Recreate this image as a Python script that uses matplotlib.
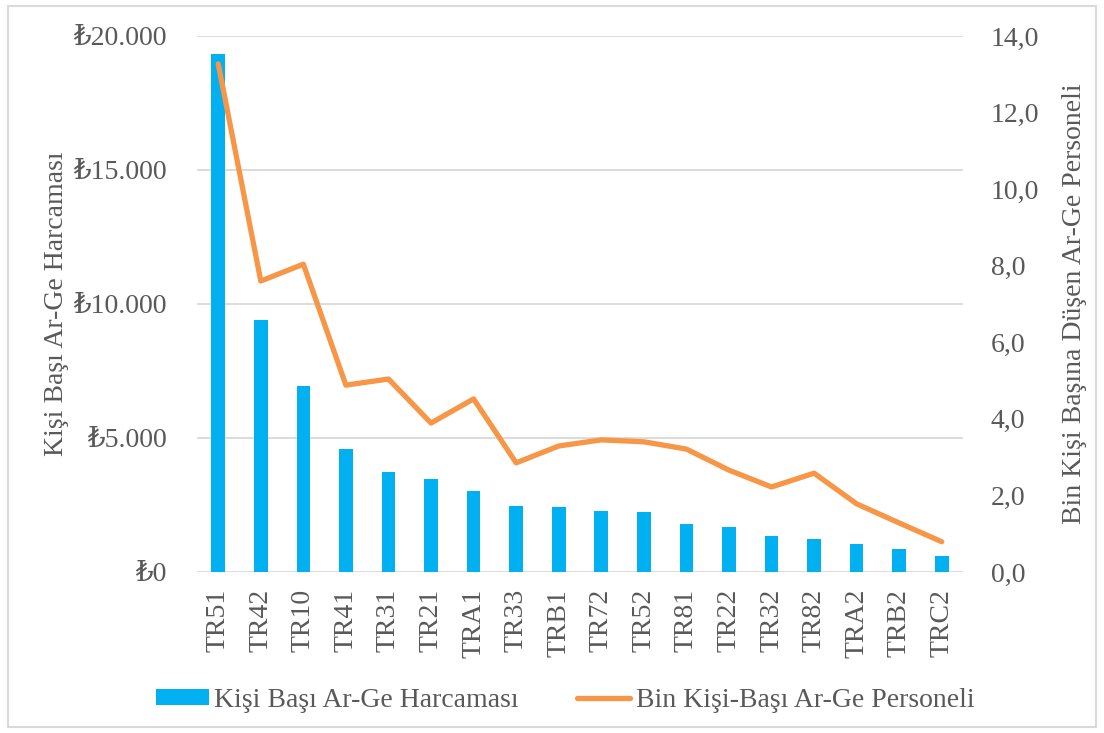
import matplotlib.pyplot as plt
from matplotlib.patches import Rectangle
from matplotlib.ticker import FuncFormatter

# Data
regions = ["TR51", "TR42", "TR10", "TR41", "TR31", "TR21", "TRA1", "TR33", "TRB1",
           "TR72", "TR52", "TR81", "TR22", "TR32", "TR82", "TRA2", "TRB2", "TRC2"]
spending = [19330, 9400, 6940, 4590, 3730, 3470, 3020, 2460, 2425,
            2275, 2240, 1790, 1680, 1345, 1230, 1045, 860, 600]
personnel = [13.27, 7.60, 8.04, 4.88, 5.04, 3.89, 4.52, 2.85, 3.29,
             3.45, 3.40, 3.21, 2.66, 2.22, 2.58, 1.78, 1.28, 0.79]

bar_label = "Kişi Başı Ar-Ge Harcaması"
line_label = "Bin Kişi-Başı Ar-Ge Personeli"
left_ylabel = "Kişi Başı Ar-Ge Harcaması"
right_ylabel = "Bin Kişi Başına Düşen Ar-Ge Personeli"

text_color = "#595959"
grid_color = "#d9d9d9"
bar_color = "#00b0f0"
line_color = "#f79646"

plt.rcParams['font.family'] = ['Liberation Serif', 'DejaVu Serif']
plt.rcParams['font.size'] = 20

fig = plt.figure(figsize=(11.04, 7.33), dpi=100)
ax = fig.add_axes([0.1784, 0.2197, 0.6939, 0.7312])
ax2 = ax.twinx()

x = range(len(regions))
bars = ax.bar(x, spending, width=0.32, color=bar_color, zorder=2, label=bar_label)
line, = ax2.plot(x, personnel, color=line_color, lw=3.8, solid_capstyle='round',
                 solid_joinstyle='round', label=line_label)

ax.set_xlim(-0.5, len(regions) - 0.5)
ax.set_ylim(0, 20000)
ax.set_yticks(range(0, 20001, 5000))
ax2.set_ylim(0, 14)
ax2.set_yticks(range(0, 15, 2))

ax.yaxis.set_major_formatter(FuncFormatter(lambda v, p: "₺" + f"{int(v):,}".replace(",", ".")))
ax2.yaxis.set_major_formatter(FuncFormatter(lambda v, p: f"{v:.1f}".replace(".", ",")))

ax.grid(axis='y', color=grid_color, lw=1.3, zorder=0)
ax.set_axisbelow(True)
ax.set_xticks(list(x))
ax.set_xticklabels(regions, rotation=90)

for a in (ax, ax2):
    for s in a.spines.values():
        s.set_visible(False)
    a.tick_params(length=0, colors=text_color, labelsize=20)
ax.tick_params(axis='y', pad=22)
ax2.tick_params(axis='y', pad=20)
ax.tick_params(axis='x', pad=12)

ax.set_ylabel(left_ylabel, color=text_color, fontsize=20, labelpad=3)
ax2.set_ylabel(right_ylabel, color=text_color, fontsize=20, labelpad=16)

fig.legend([bars, line], [bar_label, line_label], loc='center', ncol=2,
           bbox_to_anchor=(0.512, 0.044), frameon=False, fontsize=20,
           labelcolor=text_color, handlelength=1.9, handleheight=0.5,
           handletextpad=0.2, columnspacing=2.1)

fig.patches.append(Rectangle((0.007, 0.008), 0.986, 0.984, transform=fig.transFigure,
                             fill=False, edgecolor=grid_color, lw=1.5))

fig.savefig("out.png", dpi=100)
